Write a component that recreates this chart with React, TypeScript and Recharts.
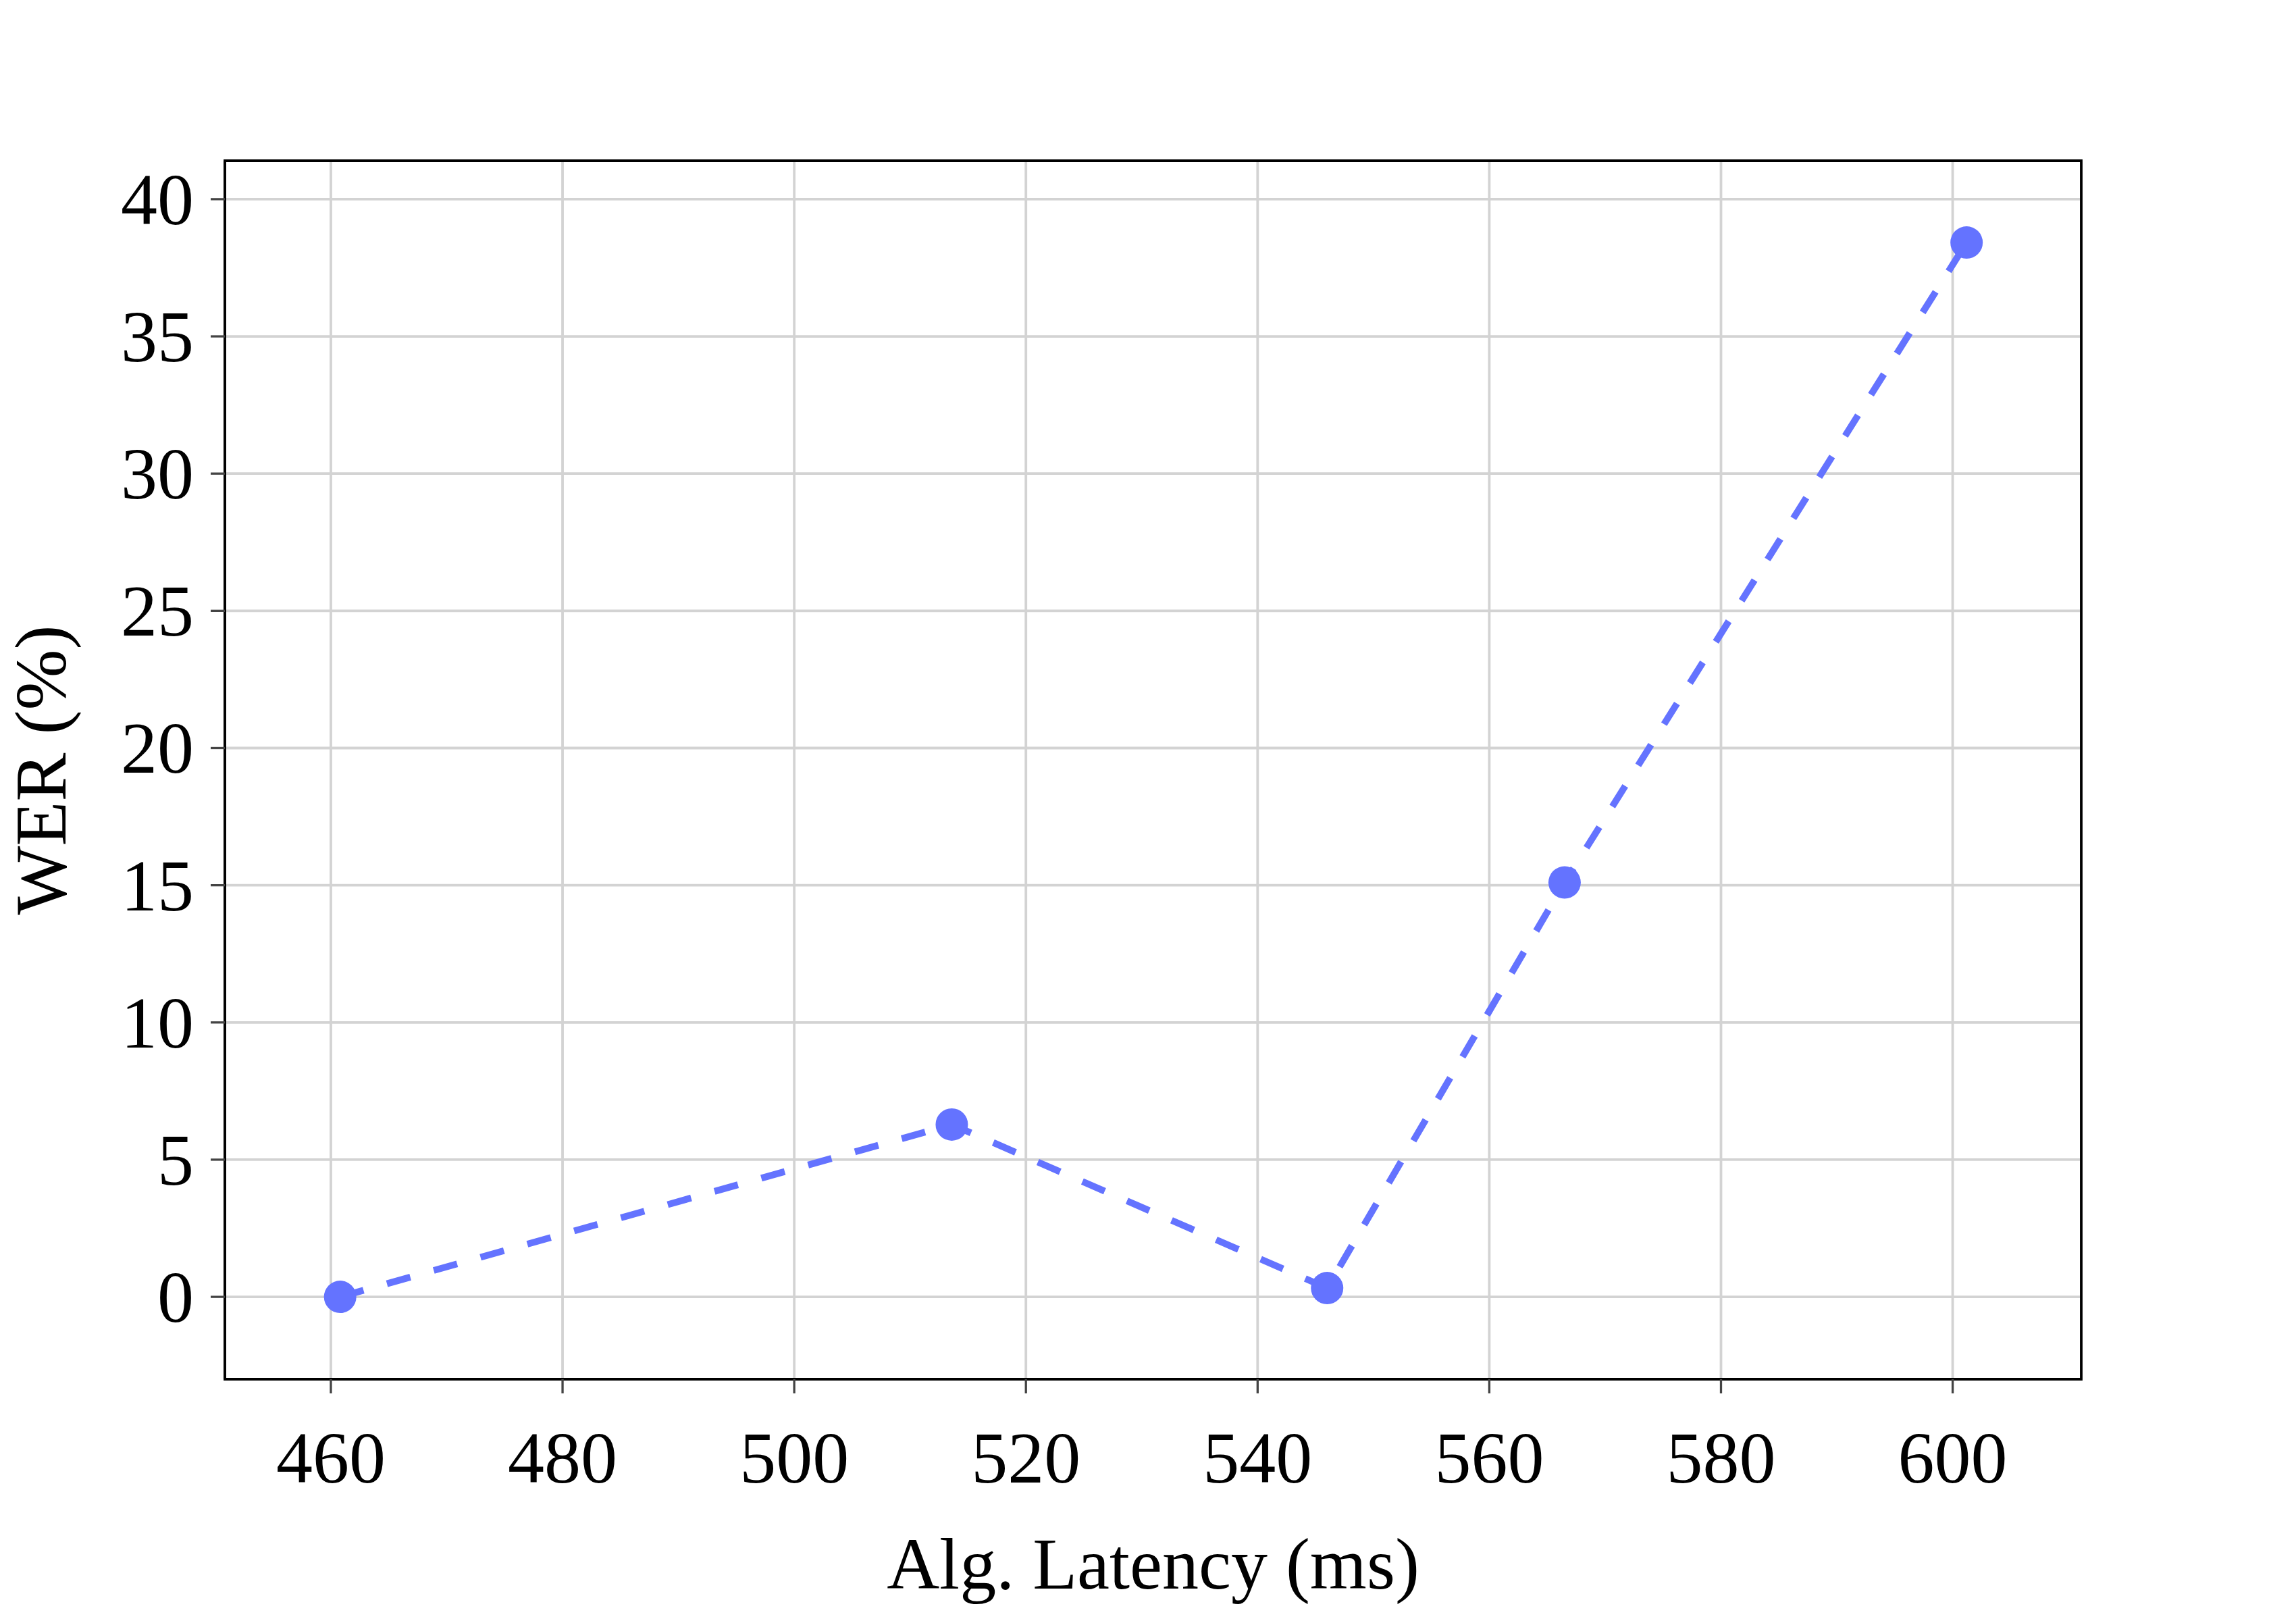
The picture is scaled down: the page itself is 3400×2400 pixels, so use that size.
import React from 'react';
import { LineChart, Line, XAxis, YAxis, CartesianGrid, ReferenceArea } from 'recharts';

const latency = [460.8, 513.6, 546.0, 566.5, 601.2];
const wer = [0.0, 6.28, 0.32, 15.1, 38.42];
const xTicks = [460, 480, 500, 520, 540, 560, 580, 600];
const yTicks = [0, 5, 10, 15, 20, 25, 30, 35, 40];
const xLabel = 'Alg. Latency (ms)';
const yLabel = 'WER (%)';

const data = latency.map((x, i) => ({ x, y: wer[i] }));

const X_DOMAIN: [number, number] = [450.85, 611.1];
const Y_DOMAIN: [number, number] = [-3.0, 41.4];

const FONT = '"Liberation Serif", "Times New Roman", serif';
const FS = 108;
const BLUE = '#6473FF';

const XTick = (props: any) => {
  const { x, y, payload } = props;
  return (
    <text x={x} y={y} dy={132} textAnchor="middle" fontFamily={FONT} fontSize={FS} fill="#000">
      {payload.value}
    </text>
  );
};

const YTick = (props: any) => {
  const { x, y, payload } = props;
  return (
    <text x={x} y={y} dy={37} textAnchor="end" fontFamily={FONT} fontSize={FS} fill="#000">
      {payload.value}
    </text>
  );
};

const XLabel = (props: any) => {
  const vb = props.viewBox || {};
  return (
    <text x={vb.x + vb.width / 2} y={vb.y + 310} textAnchor="middle" fontFamily={FONT} fontSize={FS} fill="#000">
      {xLabel}
    </text>
  );
};

const YLabel = (props: any) => {
  const vb = props.viewBox || {};
  const cx = vb.x + 97;
  const cy = vb.y + vb.height / 2;
  return (
    <text x={cx} y={cy} transform={`rotate(-90 ${cx} ${cy})`} textAnchor="middle" fontFamily={FONT} fontSize={FS} fill="#000">
      {yLabel}
    </text>
  );
};

export default function App() {
  return (
    <div style={{ position: 'absolute', left: 0, top: 0, background: '#fff', width: 3400, height: 2400 }}>
      <LineChart width={3400} height={2400} data={data} margin={{ top: 238, right: 318, bottom: 0, left: 0 }}>
        <CartesianGrid stroke="#d3d3d3" strokeWidth={3.8} />
        <XAxis
          type="number"
          dataKey="x"
          domain={X_DOMAIN}
          ticks={xTicks}
          allowDataOverflow
          height={358}
          tickSize={21}
          tickMargin={0}
          tickLine={{ stroke: '#444', strokeWidth: 3.3 }}
          axisLine={{ stroke: '#000', strokeWidth: 3.8 }}
          tick={<XTick />}
          label={<XLabel />}
          interval={0}
        />
        <YAxis
          type="number"
          dataKey="y"
          domain={Y_DOMAIN}
          ticks={yTicks}
          allowDataOverflow
          width={333}
          tickSize={21}
          tickMargin={25}
          tickLine={{ stroke: '#444', strokeWidth: 3.3 }}
          axisLine={{ stroke: '#000', strokeWidth: 3.8 }}
          tick={<YTick />}
          label={<YLabel />}
          interval={0}
        />
        <ReferenceArea
          x1={X_DOMAIN[0]}
          x2={X_DOMAIN[1]}
          y1={Y_DOMAIN[0]}
          y2={Y_DOMAIN[1]}
          fill="none"
          fillOpacity={0}
          stroke="#000"
          strokeWidth={3.8}
          ifOverflow="visible"
        />
        <Line
          type="linear"
          dataKey="y"
          stroke={BLUE}
          strokeWidth={10}
          strokeDasharray="36 36"
          dot={{ r: 24, fill: BLUE, stroke: 'none' }}
          activeDot={false}
          isAnimationActive={false}
        />
      </LineChart>
    </div>
  );
}
